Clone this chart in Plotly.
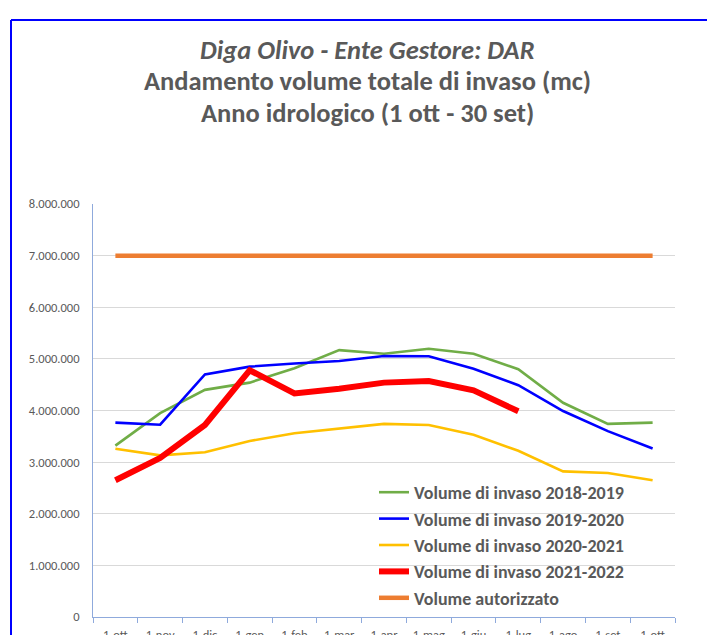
import plotly.graph_objects as go

categories = ["1-ott", "1-nov", "1-dic", "1-gen", "1-feb", "1-mar", "1-apr",
              "1-mag", "1-giu", "1-lug", "1-ago", "1-set", "1-ott"]

vol_2018_2019 = [3320000, 3950000, 4400000, 4540000, 4820000, 5170000, 5100000,
                 5195000, 5100000, 4800000, 4150000, 3740000, 3765000]
vol_2019_2020 = [3765000, 3725000, 4700000, 4850000, 4910000, 4960000, 5055000,
                 5050000, 4810000, 4490000, 3990000, 3600000, 3265000]
vol_2020_2021 = [3260000, 3130000, 3190000, 3410000, 3560000, 3650000, 3740000,
                 3720000, 3530000, 3220000, 2820000, 2790000, 2650000]
vol_2021_2022 = [2650000, 3080000, 3720000, 4780000, 4330000, 4420000, 4540000,
                 4570000, 4390000, 3985000]
vol_autorizzato = [7000000] * 13

title_lines = ["<i>Diga Olivo - Ente Gestore: DAR</i>",
               "Andamento volume totale di invaso (mc)",
               "Anno idrologico (1 ott - 30 set)"]

series = [
    ("Volume di invaso 2018-2019", vol_2018_2019, "#70AD47", 2.6),
    ("Volume di invaso 2019-2020", vol_2019_2020, "#0000FF", 2.6),
    ("Volume di invaso 2020-2021", vol_2020_2021, "#FFC000", 2.6),
    ("Volume di invaso 2021-2022", vol_2021_2022, "#FF0000", 6),
    ("Volume autorizzato", vol_autorizzato, "#ED7D31", 4.5),
]

FONT = "Carlito, Lato, sans-serif"
GREY = "#595959"
AXIS_BLUE = "#8FAADC"

fig = go.Figure()
for name, vals, color, w in series:
    fig.add_trace(go.Scatter(
        x=list(range(len(vals))), y=vals, mode="lines", name=name,
        line=dict(color=color, width=w, shape="linear"),
    ))

# page has an 8px body margin; work in page coordinates and convert
OFF = 8
W, H = 715 - OFF, 635 - OFF
ml, mr, mt, mb = 93 - OFF, 715 - 675, 204 - OFF, 635 - 617
pw, ph = W - ml - mr, H - mt - mb

def px(x):
    return (x - OFF - ml) / pw

def py(y):
    return (H - mb - (y - OFF)) / ph

annotations = []
for txt, yc in zip(title_lines, [50, 81, 113]):
    annotations.append(dict(
        text=txt, xref="paper", yref="paper", x=px(367), y=py(yc),
        xanchor="center", yanchor="middle", showarrow=False,
        font=dict(family=FONT, size=26.5, color=GREY, weight="bold"),
    ))

fig.update_layout(
    width=W, height=H,
    margin=dict(l=ml, r=mr, t=mt, b=mb, autoexpand=False),
    paper_bgcolor="white", plot_bgcolor="white",
    separators=",.",
    font=dict(family=FONT, color=GREY, size=12),
    annotations=annotations,
    xaxis=dict(
        range=[-0.5, len(categories) - 0.5],
        tickvals=list(range(len(categories))), ticktext=categories,
        ticks="outside", ticklen=6, tickcolor="rgba(0,0,0,0)",
        showgrid=False, zeroline=False, automargin=False,
        showline=True, linecolor=AXIS_BLUE, linewidth=1,
        tickfont=dict(size=12.5, color=GREY),
        minor=dict(tickvals=[i - 0.5 for i in range(len(categories) + 1)],
                   ticks="outside", ticklen=5, tickcolor=AXIS_BLUE, showgrid=False),
    ),
    yaxis=dict(
        range=[0, 8000000], dtick=1000000, tickformat=",d",
        showgrid=True, gridcolor="#D9D9D9", gridwidth=1,
        zeroline=False, showline=True, linecolor=AXIS_BLUE, linewidth=1,
        ticks="outside", ticklen=10, tickcolor="rgba(0,0,0,0)",
        tickfont=dict(size=12.5, color=GREY), automargin=False,
    ),
    legend=dict(
        x=px(374), y=py(474), xanchor="left", yanchor="top",
        bgcolor="rgba(0,0,0,0)", borderwidth=0,
        font=dict(family=FONT, size=18, color=GREY, weight="bold"),
        itemwidth=30, tracegroupgap=0,
    ),
    showlegend=True,
    shapes=[
        dict(type="line", xref="paper", yref="paper", x0=px(11), x1=px(730),
             y0=py(20), y1=py(20), line=dict(color="#0000FF", width=2)),
        dict(type="line", xref="paper", yref="paper", x0=px(11), x1=px(11),
             y0=py(20), y1=py(650), line=dict(color="#0000FF", width=2)),
    ],
)

fig.write_html("out.html")
